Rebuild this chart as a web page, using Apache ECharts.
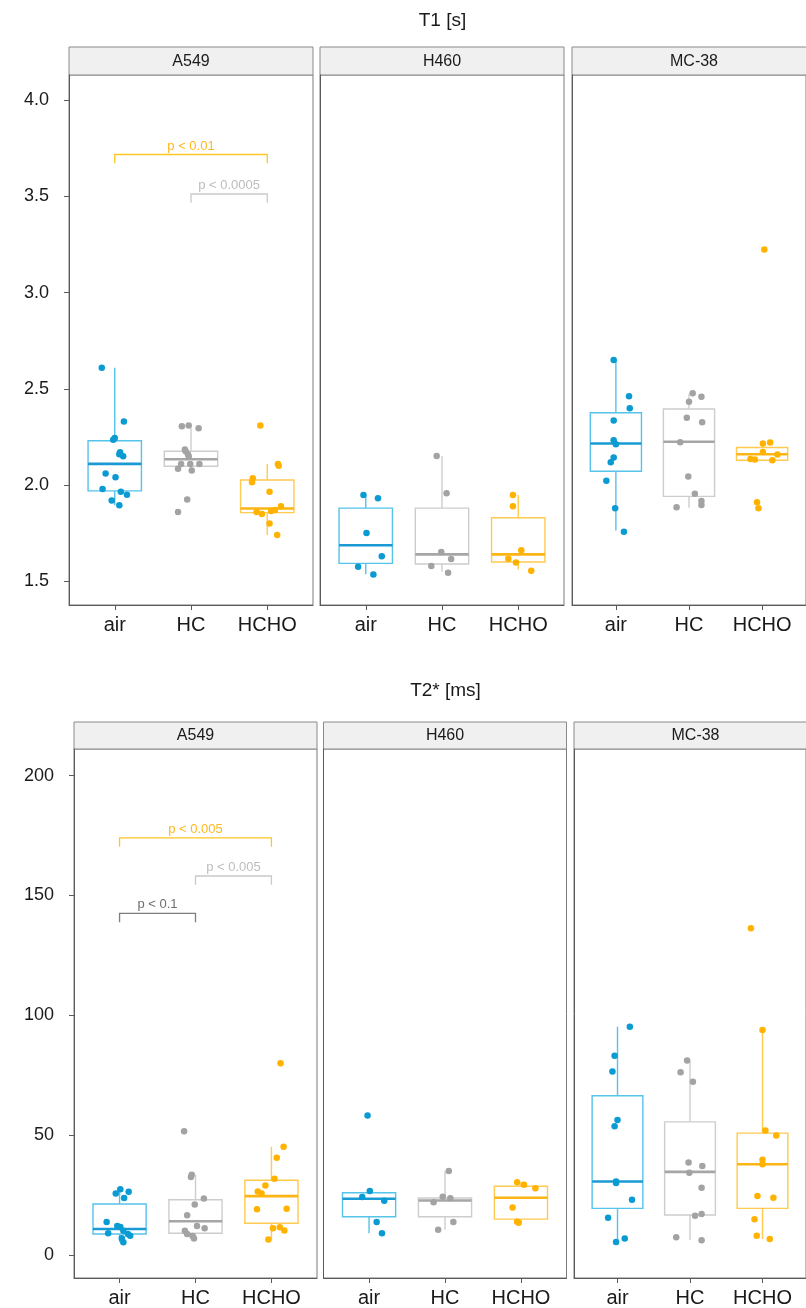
<!DOCTYPE html>
<html><head><meta charset="utf-8">
<script src="https://cdn.jsdelivr.net/npm/echarts@6/dist/echarts.min.js"></script>
<style>html,body{margin:0;padding:0;background:#fff}#c{width:806px;height:1308px}</style>
</head><body><div id="c"></div>
<script>
// ---------- DATA ----------
const groups = ['air', 'HC', 'HCHO'];
const cellLines = ['A549', 'H460', 'MC-38'];
const t1Title = 'T1 [s]';
const t2Title = 'T2* [ms]';
const t1Ticks = [1.5, 2.0, 2.5, 3.0, 3.5, 4.0];
const t2Ticks = [0, 50, 100, 150, 200];

// T1 [s] — A549 (per group: air, HC, HCHO)
const t1_A549_vals = [
  [2.61, 2.33, 2.245, 2.235, 2.17, 2.16, 2.15, 2.06, 2.04, 1.98, 1.965, 1.95, 1.92, 1.895],
  [2.305, 2.31, 2.295, 2.185, 2.175, 2.16, 2.15, 2.11, 2.11, 2.11, 2.085, 2.075, 1.925, 1.86],
  [2.31, 2.11, 2.10, 2.035, 2.015, 1.965, 1.89, 1.86, 1.85, 1.865, 1.87, 1.80, 1.74]
];
const t1_A549_jit = [
  [-0.17, 0.12, 0.00, -0.02, 0.07, 0.06, 0.11, -0.12, 0.01, -0.16, 0.08, 0.16, -0.04, 0.06],
  [-0.12, -0.03, 0.10, -0.08, -0.07, -0.04, -0.03, -0.13, -0.01, 0.11, -0.17, 0.01, -0.05, -0.17],
  [-0.09, 0.14, 0.15, -0.19, -0.20, 0.03, 0.18, -0.14, -0.07, 0.05, 0.10, 0.03, 0.13]
];
// box stats: [lower whisker, Q1, median, Q3, upper whisker]
const t1_A549_box = [
  [1.895, 1.97, 2.11, 2.23, 2.61],
  [2.075, 2.098, 2.134, 2.176, 2.295],
  [1.74, 1.857, 1.878, 2.026, 2.11]
];

// T1 [s] — H460
const t1_H460_vals = [
  [1.949, 1.931, 1.751, 1.63, 1.576, 1.536],
  [2.151, 1.958, 1.652, 1.616, 1.579, 1.544],
  [1.949, 1.89, 1.661, 1.617, 1.598, 1.555]
];
const t1_H460_jit = [
  [-0.03, 0.16, 0.01, 0.21, -0.10, 0.10],
  [-0.07, 0.06, -0.01, 0.12, -0.14, 0.08],
  [-0.07, -0.07, 0.04, -0.13, -0.03, 0.17]
];
const t1_H460_box = [
  [1.537, 1.593, 1.687, 1.88, 1.948],
  [1.551, 1.59, 1.64, 1.88, 2.151],
  [1.562, 1.60, 1.64, 1.83, 1.948]
];

// T1 [s] — MC-38
const t1_MC38_vals = [
  [2.649, 2.461, 2.399, 2.336, 2.233, 2.212, 2.143, 2.118, 2.023, 1.88, 1.758],
  [2.477, 2.459, 2.433, 2.35, 2.326, 2.222, 2.045, 1.955, 1.917, 1.896, 1.885],
  [3.223, 2.216, 2.221, 2.172, 2.159, 2.136, 2.133, 2.129, 1.911, 1.88]
];
const t1_MC38_jit = [
  [-0.03, 0.18, 0.19, -0.03, -0.03, 0.00, -0.03, -0.07, -0.13, -0.01, 0.11],
  [0.05, 0.17, 0.00, -0.03, 0.18, -0.12, -0.01, 0.08, 0.17, 0.17, -0.17],
  [0.03, 0.01, 0.11, 0.01, 0.21, -0.16, -0.10, 0.14, -0.07, -0.05]
];
const t1_MC38_box = [
  [1.764, 2.072, 2.216, 2.376, 2.649],
  [1.882, 1.941, 2.225, 2.395, 2.473],
  [2.129, 2.129, 2.16, 2.195, 2.221]
];

// T2* [ms] — A549
const t2_A549_vals = [
  [25.6, 27.4, 26.3, 23.7, 13.7, 12.0, 11.6, 10.1, 9.0, 8.7, 8.0, 6.9, 5.3],
  [51.6, 33.4, 32.5, 23.5, 21.0, 16.5, 12.0, 11.1, 10.1, 8.7, 7.9, 6.8],
  [80, 45.1, 40.5, 31.8, 28.9, 26.4, 25.6, 19.0, 19.2, 11.1, 11.5, 10.2, 6.4]
];
const t2_A549_jit = [
  [-0.05, 0.01, 0.12, 0.06, -0.17, -0.03, 0.01, 0.05, -0.15, 0.11, 0.14, 0.03, 0.05],
  [-0.15, -0.05, -0.06, 0.11, -0.01, -0.11, 0.02, 0.12, -0.14, -0.11, -0.04, -0.02],
  [0.12, 0.16, 0.07, 0.04, -0.08, -0.18, -0.13, -0.19, 0.20, 0.02, 0.11, 0.17, -0.04]
];
const t2_A549_box = [
  [5.3, 8.7, 10.8, 21.2, 27.4],
  [6.8, 9.0, 14.0, 23.0, 33.4],
  [6.4, 13.2, 24.5, 31.1, 45.1]
];

// T2* [ms] — H460
const t2_H460_vals = [
  [58.1, 26.6, 24.1, 22.6, 13.7, 9.0],
  [35.0, 24.2, 23.6, 21.9, 13.7, 10.5],
  [30.3, 29.2, 27.8, 19.8, 13.8, 13.4]
];
const t2_H460_jit = [
  [-0.02, 0.01, -0.09, 0.20, 0.10, 0.17],
  [0.05, -0.03, 0.07, -0.15, 0.11, -0.09],
  [-0.05, 0.04, 0.19, -0.11, -0.05, -0.03]
];
const t2_H460_box = [
  [9.0, 15.9, 23.4, 25.9, 26.6],
  [10.5, 15.9, 22.7, 23.7, 35.0],
  [13.4, 14.9, 23.8, 28.6, 30.3]
];

// T2* [ms] — MC-38
const t2_MC38_vals = [
  [95.2, 83.1, 76.5, 56.3, 53.7, 30.6, 30.0, 23.0, 15.5, 6.8, 5.4],
  [81.1, 76.2, 72.2, 38.5, 37.1, 34.3, 28.0, 16.3, 17.0, 7.3, 6.1],
  [136.3, 93.8, 51.9, 49.8, 39.7, 37.8, 24.6, 23.8, 14.8, 8.0, 6.6]
];
const t2_MC38_jit = [
  [0.17, -0.04, -0.07, 0.00, -0.04, -0.02, -0.02, 0.20, -0.13, 0.10, -0.02],
  [-0.04, -0.13, 0.04, -0.02, 0.17, -0.01, 0.16, 0.07, 0.16, -0.19, 0.16],
  [-0.16, 0.00, 0.04, 0.19, 0.00, 0.00, -0.07, 0.15, -0.11, -0.08, 0.10]
];
const t2_MC38_box = [
  [5.5, 19.4, 30.6, 66.4, 95.2],
  [6.2, 16.6, 34.6, 55.5, 81.1],
  [6.6, 19.4, 37.8, 50.8, 93.8]
];

// significance brackets (A549 facet): [fromGroup, toGroup, height]
const t1_sigPairs = [[0, 2, 3.717], [1, 2, 3.512]];
const t1_sigLabels = ['p < 0.01', 'p < 0.0005'];
const t2_sigPairs = [[0, 2, 174.0], [1, 2, 158.1], [0, 1, 142.5]];
const t2_sigLabels = ['p < 0.005', 'p < 0.005', 'p < 0.1'];

// ---------- STYLE / LAYOUT ----------
const FONT = "'Liberation Sans', Arial, sans-serif";
const pointColors = ['#0A9BD2', '#A3A3A3', '#FFB300'];
const boxColors = ['#55C3EA', '#CDCDCD', '#FFCA4F'];
const medianColors = ['#1A9AD5', '#A6A6A6', '#FDB515'];
const sigStyles = {
  orange: { line: '#FFC525', text: '#FFB81C' },
  light: { line: '#C9C9C9', text: '#BDBDBD' },
  dark: { line: '#7E7E7E', text: '#6E6E6E' }
};
const t1_sigStyle = ['orange', 'light'];
const t2_sigStyle = ['orange', 'light', 'dark'];

const panels = [
  {
    title: t1Title, ticks: t1Ticks, fmt: v => v.toFixed(1),
    facets: [
      { vals: t1_A549_vals, jit: t1_A549_jit, box: t1_A549_box },
      { vals: t1_H460_vals, jit: t1_H460_jit, box: t1_H460_box },
      { vals: t1_MC38_vals, jit: t1_MC38_jit, box: t1_MC38_box }
    ],
    sigPairs: t1_sigPairs, sigLabels: t1_sigLabels, sigStyle: t1_sigStyle, tip: 0.045,
    yMin: 1.377, yMax: 4.13,
    titleY: 21, stripTop: 47, stripH: 28, plotTop: 75, plotBottom: 605,
    lefts: [69, 320, 572], width: 244
  },
  {
    title: t2Title, ticks: t2Ticks, fmt: v => String(v),
    facets: [
      { vals: t2_A549_vals, jit: t2_A549_jit, box: t2_A549_box },
      { vals: t2_H460_vals, jit: t2_H460_jit, box: t2_H460_box },
      { vals: t2_MC38_vals, jit: t2_MC38_jit, box: t2_MC38_box }
    ],
    sigPairs: t2_sigPairs, sigLabels: t2_sigLabels, sigStyle: t2_sigStyle, tip: 3.7,
    yMin: -9.67, yMax: 211.1,
    titleY: 691, stripTop: 722, stripH: 27, plotTop: 749, plotBottom: 1281,
    lefts: [74, 323.5, 574], width: 243
  }
];

const grid = [], xAxis = [], yAxis = [], series = [], graphic = [];

panels.forEach((P, pi) => {
  const right = P.lefts[2] + P.width;
  graphic.push({
    type: 'text', x: (P.lefts[0] + right) / 2, y: P.titleY,
    style: { text: P.title, font: '19px ' + FONT, fill: '#1a1a1a', textAlign: 'center', textVerticalAlign: 'middle' }
  });
  P.facets.forEach((F, fi) => {
    const g = grid.length;
    const left = P.lefts[fi];
    grid.push({
      left: left, top: P.plotTop, width: P.width, height: P.plotBottom - P.plotTop,
      show: true, borderColor: '#7a7a7a', borderWidth: 1, backgroundColor: '#ffffff'
    });
    graphic.push({
      type: 'rect', shape: { x: left, y: P.stripTop, width: P.width, height: P.stripH },
      style: { fill: '#F0F0F0', stroke: '#8a8a8a', lineWidth: 1 }
    });
    graphic.push({
      type: 'text', x: left + P.width / 2, y: P.stripTop + P.stripH / 2 + 0.5,
      style: { text: cellLines[fi], font: '16px ' + FONT, fill: '#1a1a1a', textAlign: 'center', textVerticalAlign: 'middle' }
    });
    xAxis.push({
      gridIndex: g, type: 'value', min: -0.6, max: 2.6,
      splitLine: { show: false },
      axisLine: { show: true, onZero: false, lineStyle: { color: '#5a5a5a', width: 1 } },
      axisTick: { show: true, customValues: [0, 1, 2], length: 5, lineStyle: { color: '#5a5a5a' } },
      axisLabel: {
        show: true, customValues: [0, 1, 2], formatter: v => groups[Math.round(v)],
        fontSize: 20, fontFamily: FONT, color: '#1a1a1a', margin: 10
      }
    });
    yAxis.push({
      gridIndex: g, type: 'value', min: P.yMin, max: P.yMax,
      splitLine: { show: false },
      axisLine: { show: true, onZero: false, lineStyle: { color: '#5a5a5a', width: 1 } },
      axisTick: { show: fi === 0, customValues: P.ticks, length: 5, lineStyle: { color: '#5a5a5a' } },
      axisLabel: {
        show: fi === 0, customValues: P.ticks, formatter: P.fmt,
        fontSize: 18, fontFamily: FONT, color: '#1a1a1a', margin: 20
      }
    });
    // boxes
    series.push({
      type: 'custom', xAxisIndex: g, yAxisIndex: g, silent: true, z: 2,
      data: F.box.map((b, i) => [i].concat(b)),
      renderItem: (params, api) => {
        const c = api.value(0);
        const lo = api.value(1), q1 = api.value(2), md = api.value(3), q3 = api.value(4), hi = api.value(5);
        const ci = Math.round(c);
        const hw = 0.35;
        const tl = api.coord([c - hw, q3]);
        const br = api.coord([c + hw, q1]);
        const mL = api.coord([c - hw, md]);
        const mR = api.coord([c + hw, md]);
        const pHi = api.coord([c, hi]);
        const pQ3 = api.coord([c, q3]);
        const pQ1 = api.coord([c, q1]);
        const pLo = api.coord([c, lo]);
        const col = boxColors[ci];
        return {
          type: 'group', children: [
            { type: 'line', shape: { x1: pQ3[0], y1: pQ3[1], x2: pHi[0], y2: pHi[1] }, style: { stroke: col, lineWidth: 1.4 } },
            { type: 'line', shape: { x1: pQ1[0], y1: pQ1[1], x2: pLo[0], y2: pLo[1] }, style: { stroke: col, lineWidth: 1.4 } },
            { type: 'rect', shape: { x: tl[0], y: tl[1], width: br[0] - tl[0], height: br[1] - tl[1] }, style: { fill: '#ffffff', stroke: col, lineWidth: 1.4 } },
            { type: 'line', shape: { x1: mL[0], y1: mL[1], x2: mR[0], y2: mR[1] }, style: { stroke: medianColors[ci], lineWidth: 2.6 } }
          ]
        };
      }
    });
    // jittered points
    F.vals.forEach((arr, i) => {
      series.push({
        type: 'scatter', xAxisIndex: g, yAxisIndex: g, silent: true, z: 3,
        symbol: 'circle', symbolSize: 6.5,
        itemStyle: { color: pointColors[i], opacity: 1 },
        data: arr.map((v, k) => [i + F.jit[i][k], v])
      });
    });
    // significance brackets on first facet
    if (fi === 0) {
      series.push({
        type: 'custom', xAxisIndex: g, yAxisIndex: g, silent: true, z: 4,
        data: P.sigPairs,
        renderItem: (params, api) => {
          const a = api.value(0), b = api.value(1), h = api.value(2);
          const st = sigStyles[P.sigStyle[params.dataIndex]];
          const p1 = api.coord([a, h - P.tip]);
          const p2 = api.coord([a, h]);
          const p3 = api.coord([b, h]);
          const p4 = api.coord([b, h - P.tip]);
          return {
            type: 'group', children: [
              { type: 'polyline', shape: { points: [p1, p2, p3, p4] }, style: { stroke: st.line, fill: null, lineWidth: 1.3 } },
              { type: 'text', x: (p2[0] + p3[0]) / 2, y: p2[1] - 2,
                style: { text: P.sigLabels[params.dataIndex], font: '13px ' + FONT, fill: st.text, textAlign: 'center', textVerticalAlign: 'bottom' } }
            ]
          };
        }
      });
    }
  });
});

const chart = echarts.init(document.getElementById('c'), null, { renderer: 'canvas' });
chart.setOption({
  animation: false,
  backgroundColor: '#ffffff',
  grid, xAxis, yAxis, series, graphic
});
</script>
</body></html>
